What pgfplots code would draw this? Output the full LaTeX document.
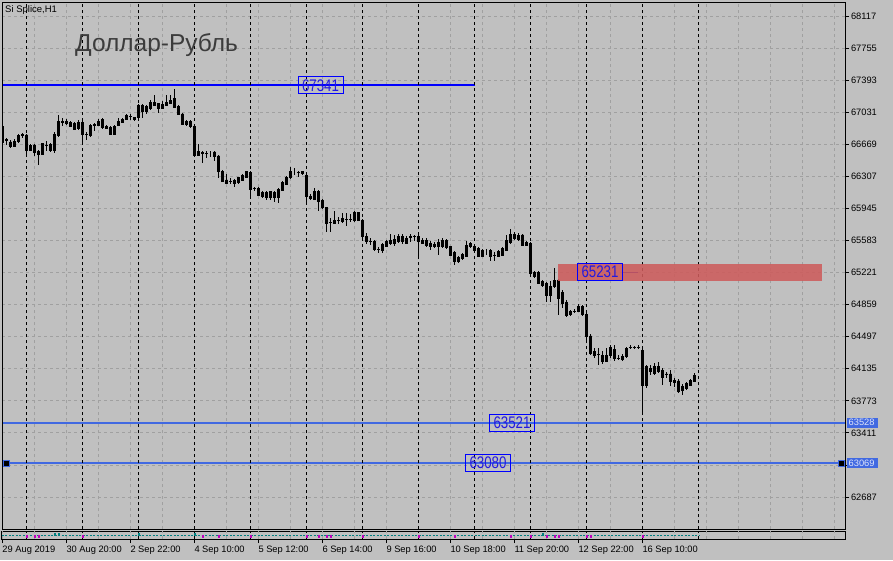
\documentclass[border=0pt]{standalone}
\usepackage{fontspec}
\setmainfont{Liberation Sans}
\usepackage{graphicx}
\usepackage{pgfplots}
\usepackage{pgfplotstable}
\pgfplotsset{compat=1.18}

\definecolor{chartBg}{RGB}{192,192,192}
\definecolor{gridGray}{RGB}{160,160,160}
\definecolor{levelBlue}{RGB}{0,0,255}
\definecolor{royalBlue}{RGB}{65,105,225}
\definecolor{labelBlue}{RGB}{35,25,225}
\definecolor{stubBlue}{RGB}{0,0,170}
\definecolor{zoneRed}{RGB}{205,92,92}
\definecolor{titleGray}{RGB}{60,60,60}
\definecolor{subTeal}{RGB}{0,128,128}
\definecolor{subMagenta}{RGB}{190,0,190}

% Si Splice H1 bars: index, open, high, low, close
\pgfplotstableread{
i o h l c
0 66875 66887 66683 66695
1 66723 66740 66661 66711
2 66695 66717 66627 66644
3 66650 66728 66638 66706
4 66700 66785 66695 66774
5 66774 66796 66740 66779
6 66774 66785 66548 66599
7 66599 66672 66593 66661
8 66661 66672 66537 66576
9 66593 66604 66435 66559
10 66559 66683 66548 66678
11 66661 66711 66593 66655
12 66672 66683 66582 66604
13 66604 66808 66570 66785
14 66774 66999 66751 66926
15 66920 66965 66875 66926
16 66926 66954 66898 66903
17 66920 66932 66864 66875
18 66909 66920 66830 66841
19 66852 66943 66830 66920
20 66920 66932 66695 66785
21 66779 66813 66717 66785
22 66768 66898 66762 66887
23 66887 66909 66819 66892
24 66887 66958 66875 66932
25 66948 66965 66852 66858
26 66875 66887 66841 66852
27 66864 66875 66774 66785
28 66785 66887 66774 66875
29 66887 66971 66881 66926
30 66915 66965 66909 66954
31 66954 67016 66948 66999
32 66982 67011 66943 66988
33 66971 66977 66943 66948
34 66971 67124 66965 67112
35 67112 67124 66971 67039
36 67039 67107 67011 67096
37 67079 67169 67056 67141
38 67141 67231 67101 67107
39 67130 67135 67022 67079
40 67079 67158 67067 67124
41 67112 67225 67101 67146
42 67135 67231 67124 67169
43 67191 67293 67079 67090
44 67101 67112 66999 67011
45 67011 67022 66887 66898
46 66892 66943 66887 66926
47 66926 66943 66864 66869
48 66875 66887 66537 66543
49 66543 66667 66537 66588
50 66576 66593 66458 66570
51 66565 66593 66514 66570
52 66576 66593 66529 66576
53 66582 66593 66480 66531
54 66537 66548 66294 66361
55 66367 66379 66243 66254
56 66266 66333 66220 66232
57 66254 66288 66220 66249
58 66260 66277 66187 66226
59 66237 66300 66232 66294
60 66266 66333 66254 66317
61 66300 66367 66295 66361
62 66356 66367 66085 66164
63 66170 66192 66141 66175
64 66175 66187 66085 66091
65 66079 66141 66062 66124
66 66124 66141 66040 66074
67 66074 66147 66040 66136
68 66124 66141 66023 66068
69 66074 66175 66006 66164
70 66153 66254 66141 66237
71 66220 66311 66209 66300
72 66294 66418 66288 66367
73 66361 66396 66322 66361
74 66356 66367 66300 66350
75 66367 66373 66322 66345
76 66322 66333 66023 66079
77 66085 66108 66051 66057
78 66051 66175 66040 66141
79 66141 66153 65916 66028
80 66040 66051 65950 65955
81 65955 65961 65684 65780
82 65786 65837 65684 65792
83 65780 65916 65769 65814
84 65808 65848 65769 65814
85 65797 65893 65780 65831
86 65820 65893 65746 65825
87 65825 65882 65791 65820
88 65808 65916 65803 65899
89 65899 65904 65803 65814
90 65814 65825 65588 65627
91 65627 65667 65543 65571
92 65577 65611 65532 65571
93 65571 65588 65475 65481
94 65486 65515 65441 65481
95 65475 65554 65441 65537
96 65520 65588 65509 65571
97 65549 65656 65532 65588
98 65554 65645 65520 65594
99 65571 65656 65554 65627
100 65627 65656 65543 65571
101 65554 65633 65543 65605
102 65622 65656 65571 65627
103 65633 65645 65577 65627
104 65627 65645 65391 65571
105 65588 65611 65543 65554
106 65588 65611 65509 65532
107 65554 65577 65470 65515
108 65515 65565 65498 65543
109 65515 65599 65419 65560
110 65515 65611 65498 65582
111 65582 65599 65498 65503
112 65515 65520 65408 65419
113 65447 65464 65306 65346
114 65346 65408 65329 65391
115 65379 65441 65374 65424
116 65408 65582 65396 65532
117 65549 65571 65498 65515
118 65515 65543 65453 65475
119 65492 65509 65396 65408
120 65408 65486 65396 65470
121 65458 65486 65419 65458
122 65470 65486 65346 65408
123 65419 65458 65346 65413
124 65408 65475 65396 65458
125 65419 65509 65408 65492
126 65475 65645 65464 65588
127 65560 65718 65543 65656
128 65656 65684 65588 65605
129 65599 65667 65577 65645
130 65645 65656 65520 65532
131 65532 65582 65520 65565
132 65549 65565 65205 65216
133 65176 65238 65159 65221
134 65221 65238 65092 65103
135 65120 65137 65058 65075
136 65097 65114 64894 64967
137 64967 65126 64888 65069
138 65063 65272 65047 65137
139 65137 65148 64742 64933
140 65001 65024 64821 64877
141 64883 64911 64719 64742
142 64747 64798 64730 64781
143 64781 64804 64764 64787
144 64787 64866 64776 64843
145 64843 64855 64742 64747
146 64747 64764 64459 64499
147 64505 64527 64290 64313
148 64335 64372 64260 64290
149 64301 64369 64177 64296
150 64284 64335 64194 64217
151 64222 64374 64211 64290
152 64284 64403 64256 64374
153 64358 64403 64222 64256
154 64256 64290 64234 64250
155 64245 64301 64222 64279
156 64273 64380 64267 64363
157 64374 64403 64358 64380
158 64380 64397 64358 64374
159 64374 64403 64358 64380
160 64346 64358 63646 63951
161 63945 64177 63917 64160
162 64104 64177 64064 64138
163 64087 64200 64064 64160
164 64160 64214 64087 64104
165 64115 64143 63946 64036
166 64076 64102 64030 64070
167 64076 64121 63943 63997
168 64008 64034 63932 63980
169 63997 64019 63861 63884
170 63895 63962 63838 63934
171 63912 63989 63895 63974
172 63952 64022 63940 64008
173 63997 64087 63985 64064
}\candles

\begin{document}
\begin{tikzpicture}[x=1pt,y=1pt]
\path[use as bounding box] (0,0) rectangle (893,560);
\clip (0,0) rectangle (893,560);
\fill[chartBg] (0,0) rectangle (893,560);

% main price window
\begin{axis}[
    at={(2pt,31pt)}, anchor=south west,
    scale only axis, width=843pt, height=526pt,
    xmin=-0.175, xmax=210.575, ymin=62326, ymax=68264,
    enlargelimits=false,
    ybar stacked, bar width=2.2pt,
    axis line style={black, line width=1pt},
    xtick={-0.1,7.9,...,207.9}, xticklabels={},
    xtick style={draw=none},
    xmajorgrids, ymajorgrids,
    major grid style={gridGray, line width=0.8pt, dash pattern=on 3pt off 3pt},
    ytick={62687,63049,63411,63773,64135,64497,64859,65221,65583,65945,66307,66669,67031,67393,67755,68117},
    yticklabels={62687,,63411,63773,64135,64497,64859,65221,65583,65945,66307,66669,67031,67393,67755,68117},
    ytick pos=right, yticklabel pos=right,
    tick align=outside, major tick length=4pt,
    ytick style={black, line width=0.8pt},
    yticklabel style={font=\fontsize{9.3}{10}\selectfont, anchor=west, inner sep=1pt, xshift=0.8pt},
]
% supply zone
\fill[zoneRed, fill opacity=0.88] (axis cs:138.8,65125) rectangle (axis cs:204.8,65317);
% day separators
\pgfplotsinvokeforeach{6,20,...,174}{
  \draw[black, line width=0.8pt, dash pattern=on 3pt off 3pt] (axis cs:#1,62326) -- (axis cs:#1,68264);
}
\draw[black, line width=0.9pt] (axis cs:-0.05,62326) -- (axis cs:-0.05,66887);

% wicks (on the invisible base bar) and bodies
\addplot[draw=none, fill=none, forget plot,
    error bars/.cd, y dir=both, y explicit, error mark=none,
    error bar style={draw=black, line width=0.9pt, solid}]
    table[x=i, y expr={min(\thisrow{o},\thisrow{c})},
          y error plus expr={\thisrow{h}-min(\thisrow{o},\thisrow{c})},
          y error minus expr={min(\thisrow{o},\thisrow{c})-\thisrow{l}}] {\candles};
\addplot[fill=white, draw=black, line width=0.8pt]
    table[x=i, y expr={max(\thisrow{c}-\thisrow{o},0)}] {\candles};
\addplot[fill=black, draw=black, line width=0.8pt]
    table[x=i, y expr={max(\thisrow{o}-\thisrow{c},0)}] {\candles};

% horizontal levels
\draw[levelBlue, line width=2pt] (axis cs:0,67340) -- (axis cs:118,67340);
\draw[royalBlue, line width=2pt] (axis cs:-0.175,63528) -- (axis cs:210.575,63528);
\draw[royalBlue, line width=2pt] (axis cs:-0.175,63069) -- (axis cs:210.575,63069);
\draw[stubBlue, line width=0.8pt] (axis cs:132.8,63528) -- (axis cs:136.8,63528);
\draw[stubBlue, line width=0.8pt] (axis cs:126.8,63069) -- (axis cs:131.1,63069);
\draw[stubBlue, line width=0.8pt] (axis cs:154.8,65227) -- (axis cs:158.8,65227);
\end{axis}

% text boxes of the levels (drawn on top, in picture pixels)
\tikzset{lvlbox/.style={draw=levelBlue, text=labelBlue, line width=1pt,
    minimum width=45pt, minimum height=17pt, inner sep=0pt,
    font=\fontsize{14}{14}\selectfont}}
\node[lvlbox] at (320.5,474.5) {\scalebox{0.95}[1.2]{67341}};
\node[lvlbox] at (512,137.5) {\scalebox{0.95}[1.2]{63521}};
\node[lvlbox] at (488,97) {\scalebox{0.95}[1.2]{63080}};
\node[lvlbox] at (600,288) {\scalebox{0.95}[1.2]{65231}};
\filldraw[fill=black, draw=royalBlue, line width=0.7pt] (3,94) rectangle (9,100);
\filldraw[fill=black, draw=royalBlue, line width=0.7pt] (838.3,94) rectangle (844.3,100);

% indicator strip with the time scale
\begin{axis}[
    at={(2pt,21pt)}, anchor=south west,
    scale only axis, width=843pt, height=8pt,
    xmin=-0.175, xmax=210.575, ymin=0, ymax=1,
    enlargelimits=false,
    axis line style={black, line width=1pt},
    ytick=\empty,
    xtick={-0.1,15.9,...,159.9},
    xticklabels={29 Aug 2019, 30 Aug 20:00, 2 Sep 22:00, 4 Sep 10:00, 5 Sep 12:00, 6 Sep 14:00, 9 Sep 16:00, 10 Sep 18:00, 11 Sep 20:00, 12 Sep 22:00, 16 Sep 10:00},
    xtick pos=bottom, tick align=outside, major tick length=4pt,
    xtick style={black, line width=0.8pt},
    xticklabel style={font=\fontsize{9.3}{10}\selectfont, anchor=north west, inner sep=1pt, xshift=-1pt, yshift=-1.5pt},
]
\pgfplotsinvokeforeach{0,...,26}{
  \draw[gridGray, line width=0.8pt, dash pattern=on 3pt off 3pt] (axis cs:{-0.1+8*#1},0) -- (axis cs:{-0.1+8*#1},1);
}
\pgfplotsinvokeforeach{6,20,...,174}{
  \draw[black, line width=0.8pt, dash pattern=on 3pt off 3pt] (axis cs:#1,0) -- (axis cs:#1,1);
}
\addplot[subTeal, line width=0.8pt, dash pattern=on 2pt off 1.5pt] coordinates {(-0.175,0.5) (174,0.5)};
\addplot[only marks, mark=square*, mark size=0.9pt, subMagenta] coordinates {
  (6,0.4) (8,0.4) (9,0.4) (20,0.4) (50,0.4) (54,0.4) (62,0.4) (76,0.4) (79,0.4)
  (81,0.4) (82,0.4) (90,0.4) (104,0.4) (113,0.4) (127,0.4) (132,0.4) (136,0.4)
  (138,0.4) (139,0.4) (146,0.4) (147,0.4) (160,0.4)};
\addplot[only marks, mark=square*, mark size=0.9pt, subTeal] coordinates {
  (13,0.6) (14,0.6) (34,0.6) (48,0.6) (135,0.6)};
\end{axis}

% price-axis markers for the two lines
\fill[royalBlue] (847,132.5) rectangle (878,142.5);
\node[anchor=west, inner sep=0pt, text=white!82!royalBlue, font=\fontsize{9.3}{10}\selectfont] at (848.5,137.5) {63528};
\fill[royalBlue] (847,92) rectangle (878,102);
\node[anchor=west, inner sep=0pt, text=white!82!royalBlue, font=\fontsize{9.3}{10}\selectfont] at (848.5,97) {63069};

% captions
\node[anchor=base west, inner sep=0pt, font=\fontsize{9.5}{10}\selectfont] at (5,547) {Si Splice,H1};
\node[anchor=base west, inner sep=0pt, text=titleGray, font=\fontsize{24.5}{26}\selectfont] at (75,508) {Доллар-Рубль};
\end{tikzpicture}
\end{document}
